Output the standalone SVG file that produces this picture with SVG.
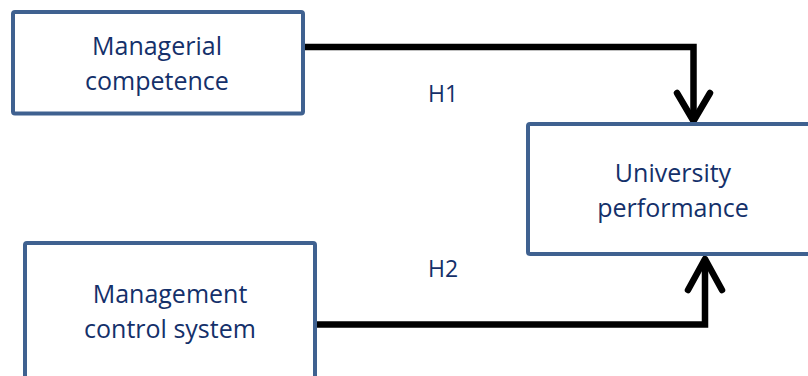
<svg xmlns="http://www.w3.org/2000/svg" width="808" height="376" viewBox="0 0 808 376">
  <style>
    .box { fill: #ffffff; stroke: #3f6190; stroke-width: 4; }
    .lbl { font-family: "Open Sans", "Liberation Sans", sans-serif; font-size: 25px; fill: #14306a; text-anchor: middle; }
    .hyp { font-family: "Open Sans", "Liberation Sans", sans-serif; font-size: 23px; fill: #14306a; }
    .conn { fill: none; stroke: #000000; stroke-width: 6.5; stroke-linejoin: miter; }
    .head { fill: none; stroke: #000000; stroke-width: 6.5; stroke-linecap: round; stroke-linejoin: round; }
  </style>
  <rect width="808" height="376" fill="#ffffff"/>
  <g id="connectors">
    <g id="c1">
      <polyline class="conn" points="305,47 693.5,47 693.5,118"/>
      <polyline class="head" points="677,93 693.5,121 710,93"/>
    </g>
    <g id="c2">
      <polyline class="conn" points="317,324.5 705,324.5 705,262"/>
      <polyline class="head" points="688,290 705,259 722,290"/>
    </g>
  </g>
  <g id="node-managerial">
    <rect class="box" x="13" y="12" width="290" height="101.5" rx="2"/>
    <text class="lbl" x="157" y="55">Managerial</text>
    <text class="lbl" x="157" y="90">competence</text>
  </g>
  <g id="node-mcs">
    <rect class="box" x="25" y="243" width="290" height="160" rx="2"/>
    <text class="lbl" x="170" y="303">Management</text>
    <text class="lbl" x="170" y="338">control system</text>
  </g>
  <g id="node-univ">
    <rect class="box" x="528" y="124" width="290" height="130" rx="2"/>
    <text class="lbl" x="673" y="182">University</text>
    <text class="lbl" x="673" y="217">performance</text>
  </g>
  <g id="labels">
    <text class="hyp" x="428" y="102">H1</text>
    <text class="hyp" x="428" y="277">H2</text>
  </g>
</svg>
